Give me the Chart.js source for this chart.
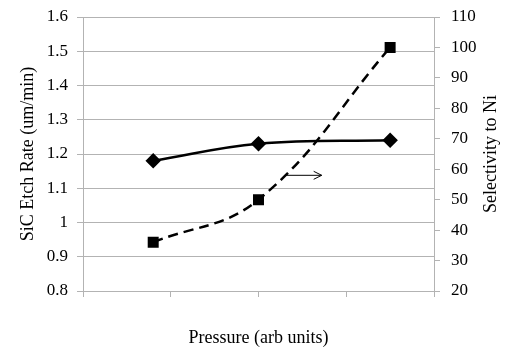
<!DOCTYPE html>
<html>
<head>
<meta charset="utf-8">
<script src="https://cdn.jsdelivr.net/npm/chart.js@4"></script>
<style>
  html, body { margin: 0; padding: 0; background: #fff; }
  #wrap { width: 519px; height: 364px; }
</style>
</head>
<body>
<div id="wrap"><canvas id="etchChart"></canvas></div>
<script>
// pressure positions (arb units)
const pressure = [0.8, 2.0, 3.5];
const etchRate = [1.18, 1.23, 1.24];      // left axis, um/min
const selectivity = [36, 50, 100];        // right axis
const arrowFrom = { x: 2.3, y: 58 };
const arrowTo = { x: 2.72, y: 58 };
const rightTitle = 'Selectivity to Ni';

const serif = "'Liberation Serif', 'Times New Roman', serif";
const gridGray = '#b3b3b3';

const toPoints = (xs, ys) => xs.map((x, i) => ({ x: x, y: ys[i] }));

// arrow telling which axis the dashed curve uses + right title reading upwards
const extrasPlugin = {
  id: 'extras',
  afterDatasetsDraw(chart) {
    const { ctx, scales, chartArea } = chart;
    const x1 = scales.x.getPixelForValue(arrowFrom.x);
    const x2 = scales.x.getPixelForValue(arrowTo.x);
    const y = scales.y2.getPixelForValue(arrowFrom.y);
    ctx.save();
    ctx.strokeStyle = '#000';
    ctx.lineWidth = 1;
    ctx.beginPath();
    ctx.moveTo(x1, y);
    ctx.lineTo(x2, y);
    ctx.moveTo(x2 - 8, y - 4);
    ctx.lineTo(x2, y);
    ctx.lineTo(x2 - 8, y + 4);
    ctx.stroke();

    ctx.translate(scales.y2.right - 28, (chartArea.top + chartArea.bottom) / 2);
    ctx.rotate(-Math.PI / 2);
    ctx.fillStyle = '#000';
    ctx.font = '18px ' + serif;
    ctx.textAlign = 'center';
    ctx.textBaseline = 'middle';
    ctx.fillText(rightTitle, 0, 0);
    ctx.restore();
  },
};

// fixed axis boxes so the plot area sits where the original one does
const fixWidth = (w) => (s) => {
  s.width = w;
  s.paddingTop = 0;
  s.paddingBottom = 0;
};

const ctx = document.getElementById('etchChart').getContext('2d');

new Chart(ctx, {
  type: 'scatter',
  data: {
    datasets: [
      {
        label: 'SiC Etch Rate',
        data: toPoints(pressure, etchRate),
        yAxisID: 'y',
        showLine: true,
        tension: 0.4,
        borderColor: '#000',
        backgroundColor: '#000',
        borderWidth: 2.5,
        pointStyle: 'rectRot',
        pointRadius: 6,
        pointHoverRadius: 6,
      },
      {
        label: 'Selectivity to Ni',
        data: toPoints(pressure, selectivity),
        yAxisID: 'y2',
        showLine: true,
        tension: 0.4,
        borderColor: '#000',
        backgroundColor: '#000',
        borderWidth: 2.5,
        borderDash: [10, 6],
        pointStyle: 'rect',
        pointRadius: 6,
        pointHoverRadius: 6,
      },
    ],
  },
  options: {
    responsive: true,
    maintainAspectRatio: false,
    animation: false,
    layout: { padding: { top: 17, right: 0, bottom: 0, left: 0 } },
    plugins: {
      legend: { display: false },
      tooltip: { enabled: false },
    },
    scales: {
      x: {
        type: 'linear',
        min: 0,
        max: 4,
        ticks: { stepSize: 1, display: false },
        grid: { drawOnChartArea: false, color: gridGray, tickLength: 6 },
        border: { color: gridGray },
        afterFit: (s) => {
          s.height = 73;
          s.paddingLeft = 0;
          s.paddingRight = 0;
        },
        title: {
          display: true,
          text: 'Pressure (arb units)',
          color: '#000',
          font: { family: serif, size: 18 },
          padding: { top: 0, bottom: 15 },
        },
      },
      y: {
        position: 'left',
        min: 0.8,
        max: 1.6,
        afterFit: fixWidth(83),
        ticks: {
          stepSize: 0.1,
          padding: 9,
          color: '#000',
          font: { family: serif, size: 17 },
          callback: (v) => Math.round(v * 10) / 10,
        },
        grid: { color: gridGray, tickLength: 6 },
        border: { color: gridGray },
        title: {
          display: true,
          text: 'SiC Etch Rate (um/min)',
          color: '#000',
          font: { family: serif, size: 18 },
          padding: { top: 17, bottom: 0 },
        },
      },
      y2: {
        position: 'right',
        min: 20,
        max: 110,
        afterFit: fixWidth(85),
        ticks: {
          stepSize: 10,
          padding: 11,
          color: '#000',
          font: { family: serif, size: 17 },
        },
        grid: { drawOnChartArea: false, color: gridGray, tickLength: 6 },
        border: { color: gridGray },
      },
    },
  },
  plugins: [extrasPlugin],
});
</script>
</body>
</html>
